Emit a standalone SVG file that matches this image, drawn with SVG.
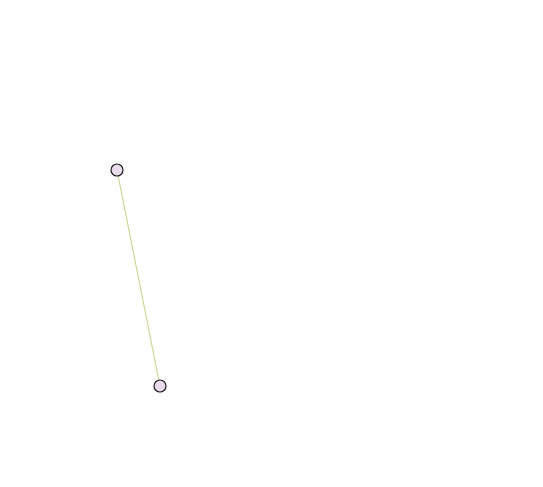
<svg xmlns="http://www.w3.org/2000/svg" width="543" height="487" viewBox="0 0 543 487">
<style>
.node{fill:#e8dcea;stroke:#1a1a1a;stroke-width:1.2}
.edge{stroke:#cbd89a;stroke-width:1.2;fill:none}
</style>
<rect width="543" height="487" fill="#ffffff"/>
<g id="connectors">
<line class="edge" x1="117" y1="170" x2="160" y2="386"/>
</g>
<g id="node-a"><circle class="node" cx="117" cy="170" r="6"/></g>
<g id="node-b"><circle class="node" cx="160" cy="386" r="6"/></g>
</svg>
